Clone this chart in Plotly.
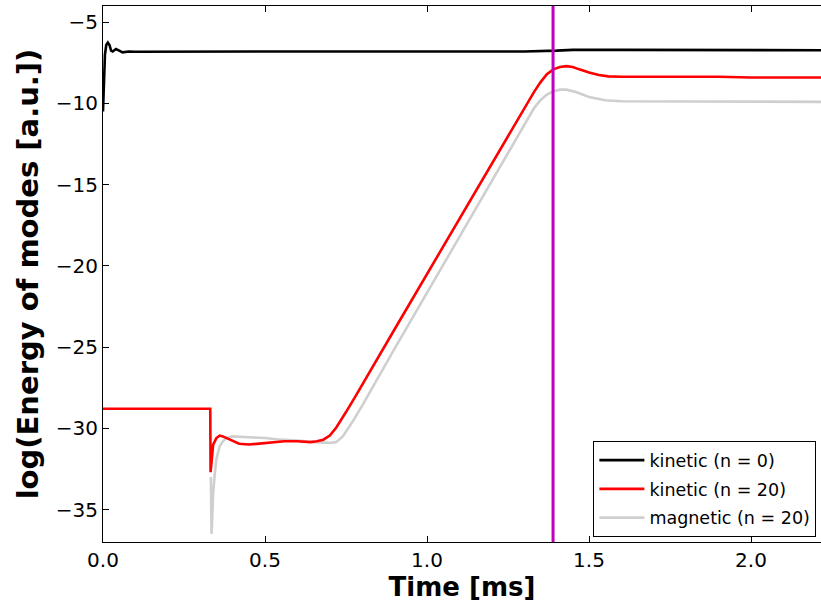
import plotly.graph_objects as go

# Mode energy histories (log scale, arbitrary units) versus time in ms
t_kin0 = [0.0, 0.003, 0.006, 0.01, 0.015, 0.02, 0.025, 0.03, 0.04, 0.05, 0.06, 0.08,
          0.1, 0.5, 1.0, 1.3, 1.4, 1.45, 1.6, 2.0, 2.22]
e_kin0 = [-10.5, -8.5, -7.0, -6.4, -6.25, -6.4, -6.75, -6.8, -6.65, -6.75, -6.85, -6.8,
          -6.82, -6.8, -6.8, -6.8, -6.75, -6.7, -6.7, -6.72, -6.72]

t_kin20 = [0.0, 0.331, 0.332, 0.335, 0.34, 0.35, 0.36, 0.37, 0.39, 0.42, 0.45, 0.48,
           0.52, 0.56, 0.60, 0.64, 0.66, 0.68, 0.70, 0.72, 0.75, 0.78, 0.90, 1.0,
           1.1, 1.2, 1.3, 1.33, 1.35, 1.37, 1.39, 1.41, 1.43, 1.45, 1.47, 1.50,
           1.53, 1.56, 1.6, 1.7, 1.8, 1.9, 2.0, 2.1, 2.22]
e_kin20 = [-28.8, -28.8, -32.7, -32.0, -31.0, -30.6, -30.45, -30.5, -30.7, -30.95, -31.0, -30.95,
           -30.85, -30.8, -30.8, -30.85, -30.8, -30.7, -30.45, -29.95, -29.0, -28.0, -23.9, -20.5,
           -17.1, -13.7, -10.3, -9.3, -8.7, -8.2, -7.9, -7.75, -7.7, -7.75, -7.9, -8.1,
           -8.25, -8.33, -8.36, -8.36, -8.34, -8.36, -8.4, -8.4, -8.4]

t_mag20 = [0.333, 0.335, 0.337, 0.34, 0.345, 0.35, 0.36, 0.37, 0.38, 0.40, 0.45, 0.50,
           0.55, 0.60, 0.65, 0.70, 0.72, 0.74, 0.77, 0.80, 0.90, 1.0, 1.1, 1.2,
           1.3, 1.33, 1.35, 1.37, 1.39, 1.41, 1.43, 1.46, 1.50, 1.55, 1.6, 1.8, 2.0, 2.22]
e_mag20 = [-33.0, -36.5, -35.5, -34.0, -32.8, -31.9, -31.1, -30.8, -30.6, -30.5, -30.55, -30.6,
           -30.7, -30.75, -30.85, -30.9, -30.85, -30.5, -29.6, -28.6, -25.1, -21.65, -18.2, -14.8,
           -11.3, -10.3, -9.8, -9.45, -9.25, -9.15, -9.15, -9.3, -9.6, -9.8, -9.86, -9.86, -9.9, -9.9]

t_mark = 1.389  # marked time instant

x_ticks = [0.0, 0.5, 1.0, 1.5, 2.0]
y_ticks = [-35, -30, -25, -20, -15, -10, -5]

font_family = "DejaVu Sans"

fig = go.Figure()
fig.add_trace(go.Scatter(x=t_kin0, y=e_kin0, mode="lines", name="kinetic (n = 0)",
                         legendgroup="a", legendrank=1,
                         line=dict(color="black", width=2.6)))
fig.add_trace(go.Scatter(x=t_mag20, y=e_mag20, mode="lines", name="magnetic (n = 20)",
                         legendgroup="c", legendrank=3,
                         line=dict(color="#cfcfcf", width=2.6)))
fig.add_trace(go.Scatter(x=t_kin20, y=e_kin20, mode="lines", name="kinetic (n = 20)",
                         legendgroup="b", legendrank=2,
                         line=dict(color="red", width=2.6)))
# invisible trace to carry the top tick marks
fig.add_trace(go.Scatter(x=[0, 2.22], y=[-37, -37], xaxis="x2", mode="lines",
                         line=dict(width=0), showlegend=False, hoverinfo="skip"))

fig.add_shape(type="line", x0=t_mark, x1=t_mark, y0=0, y1=1, xref="x", yref="paper",
              line=dict(color="#bf00bf", width=3))

x_range = [0, 2.216]
fig.update_layout(
    width=821, height=604,
    margin=dict(l=103, r=0, t=6, b=62),
    paper_bgcolor="white", plot_bgcolor="white",
    font=dict(family=font_family, size=20, color="black"),
    showlegend=True,
    legend=dict(x=0.683, y=0.188, xanchor="left", yanchor="top",
                bgcolor="white", bordercolor="black", borderwidth=1,
                font=dict(size=17.5, family=font_family),
                traceorder="grouped", tracegroupgap=3, itemwidth=45),
    xaxis=dict(range=x_range, tickvals=x_ticks, ticktext=["0.0", "0.5", "1.0", "1.5", "2.0"],
               ticks="inside", ticklen=6, tickcolor="black", showgrid=False, zeroline=False,
               showline=True, linecolor="black", linewidth=1, mirror=True,
               tickfont=dict(size=20),
               title=dict(text="<b>Time [ms]</b>", font=dict(size=26), standoff=3)),
    xaxis2=dict(range=x_range, overlaying="x", side="top", tickvals=x_ticks,
                showticklabels=False, ticks="inside", ticklen=6, tickcolor="black",
                showgrid=False, zeroline=False, showline=False),
    yaxis=dict(range=[-37, -4], tickvals=y_ticks, ticks="inside", ticklen=6,
               tickcolor="black", showgrid=False, zeroline=False,
               showline=True, linecolor="black", linewidth=1, mirror=False,
               tickfont=dict(size=20),
               title=dict(text="<b>log(Energy of modes [a.u.])</b>", font=dict(size=29),
                          standoff=8)),
)

fig.write_html("out.html")
